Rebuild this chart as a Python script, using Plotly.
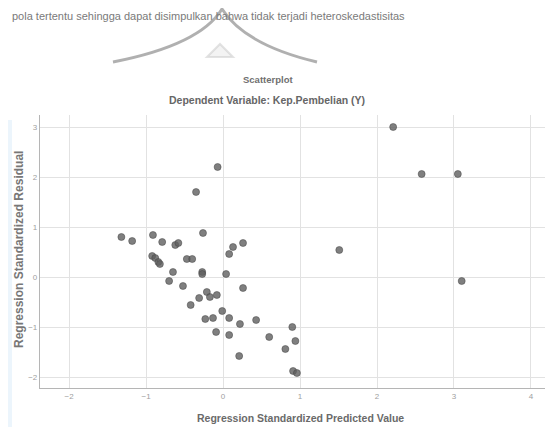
import plotly.graph_objects as go

# ---- data ----
pred = [-0.07, -0.35, -1.32, -1.18, -0.91, -0.79, -0.62, -0.58, -0.26, 0.26,
        0.13, 0.08, -0.92, -0.88, -0.84, -0.82, -0.47, -0.40, -0.27, -0.27,
        0.04, -0.65, -0.70, -0.52, 0.26, -0.21, -0.08, -0.17, -0.31, -0.42,
        -0.01, -0.23, -0.13, 0.08, 0.43, 0.22, -0.09, 0.08, 0.60, 0.90,
        0.94, 0.81, 0.21, 0.91, 0.96, 2.21, 2.58, 3.05, 1.51, 3.10]
resid = [2.20, 1.70, 0.80, 0.72, 0.84, 0.70, 0.64, 0.68, 0.88, 0.68,
         0.60, 0.46, 0.42, 0.38, 0.30, 0.26, 0.36, 0.36, 0.10, 0.06,
         0.06, 0.10, -0.08, -0.18, -0.22, -0.30, -0.36, -0.40, -0.42, -0.56,
         -0.68, -0.84, -0.82, -0.82, -0.86, -0.94, -1.10, -1.16, -1.20, -1.00,
         -1.28, -1.44, -1.58, -1.88, -1.92, 3.00, 2.06, 2.06, 0.54, -0.08]
x_ticks = [-2, -1, 0, 1, 2, 3, 4]
y_ticks = [-2, -1, 0, 1, 2, 3]
title_line1 = "Scatterplot"
title_line2 = "Dependent Variable: Kep.Pembelian (Y)"
x_title = "Regression Standardized Predicted Value"
y_title = "Regression Standardized Residual"
top_text = "pola tertentu sehingga dapat disimpulkan bahwa tidak terjadi heteroskedastisitas"

# page body has an 8px margin; figure is sized/positioned to compensate
OFF = 8
W, H = 553 - OFF, 427 - OFF
L, R, T, B = 40 - OFF, 0, 115 - OFF, 427 - 388


def px(x):
    return (x - OFF - L) / (W - L - R)


def py(y):
    return (H - B - (y - OFF)) / (H - T - B)


fig = go.Figure()
fig.add_trace(go.Scatter(
    x=pred, y=resid, mode="markers",
    marker=dict(size=7, color="rgba(95,95,95,0.8)",
                line=dict(width=0.6, color="rgba(70,70,70,0.85)")),
    hoverinfo="x+y", showlegend=False))

axis_common = dict(showgrid=True, gridcolor="#e2e2e2", gridwidth=1,
                   zeroline=False, showline=True, linecolor="#b5b5b5",
                   linewidth=1.2, ticks="", mirror=False,
                   tickfont=dict(family="Liberation Sans", size=8, color="#a0a0a0"))

fig.update_xaxes(range=[-2.377, 4.286], tickvals=x_ticks, **axis_common)
fig.update_yaxes(range=[-2.22, 3.24], tickvals=y_ticks, **axis_common)

ctr = dict(xref="paper", yref="paper", showarrow=False,
           xanchor="center", yanchor="middle")
ann = [
    dict(text=f"<b>{title_line1}</b>", x=px(268), y=py(79), **ctr,
         font=dict(family="Liberation Sans", size=9.5, color="#707070")),
    dict(text=f"<b>{title_line2}</b>", x=px(267), y=py(100), **ctr,
         font=dict(family="Liberation Sans", size=10.5, color="#666666")),
    dict(text=f"<b>{x_title}</b>", x=px(300), y=py(418), **ctr,
         font=dict(family="Liberation Sans", size=10.5, color="#6a6a6a")),
    dict(text=f"<b>{y_title}</b>", x=px(19), y=py(250), textangle=-90, **ctr,
         font=dict(family="Liberation Sans", size=12, color="#777777")),
    dict(text=top_text, x=px(10), y=py(8), xref="paper", yref="paper",
         xanchor="left", yanchor="top", showarrow=False,
         font=dict(family="Liberation Sans", size=11, color="#7a7a7a")),
]

shapes = [
    # decorative arcs at top
    dict(type="path", xref="paper", yref="paper",
         path=f"M {px(113)},{py(62)} Q {px(200)},{py(45)} {px(222)},{py(9)} "
              f"Q {px(245)},{py(45)} {px(317)},{py(62)}",
         line=dict(color="rgba(150,150,150,0.75)", width=3)),
    dict(type="path", xref="paper", yref="paper",
         path=f"M {px(207)},{py(57)} L {px(220)},{py(44)} L {px(233)},{py(57)} Z",
         line=dict(color="rgba(200,200,200,0.5)", width=2),
         fillcolor="rgba(225,225,225,0.4)"),
    # faint tinted strip at left edge
    dict(type="rect", xref="paper", yref="paper",
         x0=px(8), x1=px(12), y0=py(427), y1=py(120),
         line=dict(width=0), fillcolor="rgba(200,225,245,0.35)", layer="below"),
]

fig.update_layout(
    width=W, height=H,
    margin=dict(l=L, r=R, t=T, b=B, autoexpand=False),
    paper_bgcolor="white", plot_bgcolor="white",
    annotations=ann, shapes=shapes,
)

fig.write_html("out.html")
